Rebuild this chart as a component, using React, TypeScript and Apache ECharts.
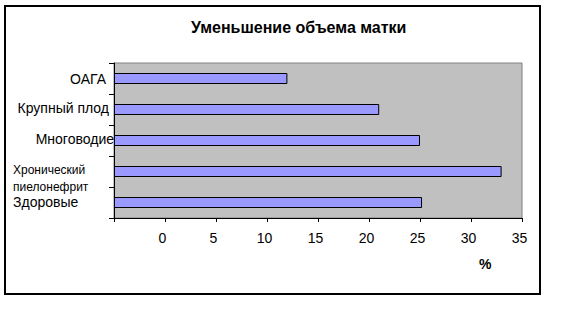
import React, { useEffect, useRef } from "react";
import * as echarts from "echarts";

const TITLE = "Уменьшение объема матки";
const AXIS_NAME = "%";
const categories = ["ОАГА", "Крупный плод", "Многоводие", "Хронический\nпиелонефрит", "Здоровые"];
const values = [12, 21, 25, 33, 25.2];
// The reference's tick labels sit one tick to the right of the bars' origin.
const LABEL_OFFSET = 5;
const AXIS_MAX = 40;
const AXIS_STEP = 5;

const FONT = "'Liberation Sans', Arial, Helvetica, sans-serif";
const NARROW = "'Liberation Sans Narrow', 'Arial Narrow', 'Liberation Sans', Arial, sans-serif";

export default function App() {
  const ref = useRef<HTMLDivElement>(null);
  useEffect(() => {
    if (!ref.current) return;
    const chart = echarts.init(ref.current, undefined, { renderer: "svg" });
    const keys = ["r0", "r1", "r2", "r3", "r4"];
    chart.setOption({
      animation: false,
      backgroundColor: "#ffffff",
      title: {
        text: TITLE,
        left: 191,
        top: 19,
        padding: 0,
        textStyle: { fontFamily: FONT, fontSize: 16, fontWeight: "bold", color: "#000" },
      },
      graphic: [
        {
          type: "rect",
          shape: { x: 5, y: 6, width: 535, height: 288 },
          style: { fill: "none", stroke: "#000", lineWidth: 2 },
          silent: true,
        },
        {
          type: "text",
          x: 479,
          y: 257,
          style: {
            text: AXIS_NAME,
            fontFamily: FONT,
            fontSize: 14,
            fontWeight: "bold",
            fill: "#000",
          },
          silent: true,
        },
      ],
      grid: {
        left: 114,
        right: 58,
        top: 63,
        bottom: 91,
        show: true,
        backgroundColor: "#C0C0C0",
        borderColor: "#808080",
        borderWidth: 1,
      },
      xAxis: {
        type: "value",
        min: 0,
        max: AXIS_MAX,
        interval: AXIS_STEP,
        axisLine: { show: true, lineStyle: { color: "#000", width: 1 } },
        axisTick: { show: true, length: 4, lineStyle: { color: "#000" } },
        splitLine: { show: false },
        axisLabel: {
          margin: 13,
          fontFamily: NARROW,
          fontSize: 14,
          color: "#000",
          padding: [0, 5, 0, 0],
          formatter: (v: number) => (v === 0 ? "" : String(v - LABEL_OFFSET)),
        },
      },
      yAxis: {
        type: "category",
        inverse: true,
        data: categories,
        axisLine: { show: true, lineStyle: { color: "#000", width: 1 } },
        axisTick: { show: true, length: 5, lineStyle: { color: "#000" } },
        splitLine: { show: false },
        axisLabel: {
          margin: 0,
          color: "#000",
          fontFamily: FONT,
          fontSize: 14,
          formatter: (v: string, i: number) => {
            if (v.indexOf("\n") >= 0) {
              return "{sp|}\n" + v.split("\n").map((s) => `{${keys[i]}|${s}}`).join("\n");
            }
            return `{${keys[i]}|${v}}`;
          },
          rich: {
            sp: { lineHeight: 14, fontSize: 12 },
            r0: { fontFamily: FONT, fontSize: 14, color: "#000", padding: [0, 8, 0, 0] },
            r1: { fontFamily: FONT, fontSize: 14, color: "#000", padding: [0, 5, 3, 0] },
            r2: { fontFamily: FONT, fontSize: 14, color: "#000", padding: [0, 0, 4, 0] },
            r3: { fontFamily: FONT, fontSize: 12, color: "#000", width: 101, align: "left", lineHeight: 17 },
            r4: { fontFamily: FONT, fontSize: 14, color: "#000", width: 101, align: "left", padding: [0, 0, 2, 0] },
          },
        },
      },
      series: [
        {
          type: "bar",
          data: values.map((v) => v + LABEL_OFFSET),
          barWidth: 11,
          itemStyle: { color: "#9999FF", borderColor: "#000", borderWidth: 1 },
          silent: true,
        },
      ],
    });
    return () => chart.dispose();
  }, []);
  return (
    <div
      ref={ref}
      style={{ position: "fixed", left: 0, top: 0, width: 580, height: 309, background: "#fff" }}
    />
  );
}
